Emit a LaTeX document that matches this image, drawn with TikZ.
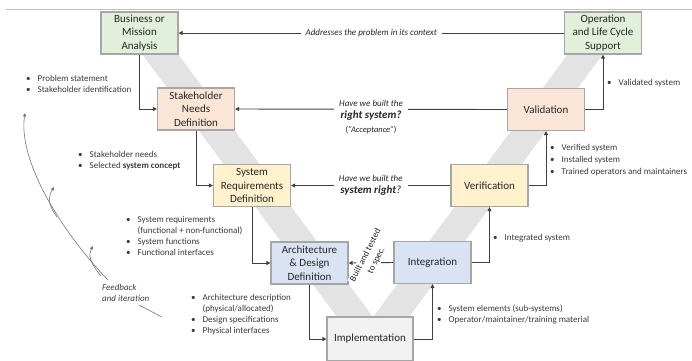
\documentclass[tikz,border=0pt]{standalone}
\usepackage{fontspec}
\setmainfont{Carlito}
\usetikzlibrary{arrows.meta}

\definecolor{boxgreen}{HTML}{E2EFDA}
\definecolor{boxpeach}{HTML}{FBE5D6}
\definecolor{boxyellow}{HTML}{FFF2CC}
\definecolor{boxblue}{HTML}{DAE3F3}
\definecolor{boxgray}{HTML}{F2F2F2}
\definecolor{boxedge}{HTML}{A6A6A6}
\definecolor{vband}{HTML}{E3E3E3}
\definecolor{ink}{HTML}{3A3A3A}
\definecolor{rule}{HTML}{BFBFBF}

% bullet marker and hanging indent for the output lists
\newcommand{\bmark}{\makebox[11.5pt][l]{\textbullet}}
\newcommand{\bhang}{\hspace*{11.5pt}}

\begin{document}
\begin{tikzpicture}[x=1pt,y=-1pt,
  stage/.style={draw=boxedge,line width=1.2pt,minimum width=77pt,minimum height=42pt,
    inner sep=2pt,align=center,text=black!85,font=\fontsize{11}{13.5}\selectfont},
  conn/.style={draw=black!75,line width=0.9pt,-{Triangle[length=4pt,width=4pt]}},
  lab/.style={fill=white,inner xsep=5pt,inner ysep=1pt,align=center,text=black!85,
    font=\fontsize{9}{12}\selectfont},
  outlist/.style={anchor=base west,inner sep=0pt,text=ink,font=\fontsize{9}{11}\selectfont},
  fb/.style={draw=black!55,line width=0.6pt},
  fbarrow/.style={fb,-{Triangle[length=3.5pt,width=3pt]}}]

\useasboundingbox (0,0) rectangle (692,360);

% top rule
\coordinate (ruleL) at (6,9);
\coordinate (ruleR) at (692,9);
\draw[rule,line width=0.8pt] (ruleL) -- (ruleR);

% the grey V behind the stages
\fill[vband] (142,54) -- (178,54) -- (373,317) -- (568,54) -- (603,54)
  -- (409,317) -- (337,317) -- cycle;

% stages
\node[stage,fill=boxgreen]  (bma) at (139.5,33)  {Business or\\Mission\\Analysis};
\node[stage,fill=boxpeach]  (snd) at (196,109)   {Stakeholder\\Needs\\Definition};
\node[stage,fill=boxyellow] (srd) at (252,185.5) {System\\Requirements\\Definition};
\node[stage,fill=boxblue]   (add) at (309.5,263) {Architecture\\\& Design\\Definition};
\node[stage,fill=boxgray,minimum width=86pt,minimum height=44pt] (imp) at (370,339) {Implementation};
\node[stage,fill=boxblue]   (int) at (432.5,262.5) {Integration};
\node[stage,fill=boxyellow] (ver) at (489.5,185.5) {Verification};
\node[stage,fill=boxpeach]  (val) at (546,109.5) {Validation};
\node[stage,fill=boxgreen]  (ops) at (603,33)    {Operation\\and Life Cycle\\Support};

% flow down the left side and up the right side
\draw[conn] (bma.south) |- (snd.west);
\draw[conn] (snd.south) |- (srd.west);
\draw[conn] (srd.south) |- (add.west);
\draw[conn] (add.south) |- (imp.west);
\draw[conn] (imp.east) -| (int.south);
\draw[conn] (int.east) -| (ver.south);
\draw[conn] (ver.east) -| (val.south);
\draw[conn] (val.east) -| (ops.south);

% checks across the V
\draw[conn] (ops.west) -- node[lab] (l1) {\itshape Addresses the problem in its context} (bma.east);
\draw[conn] (val.west) -- (snd.east);
\node[lab] (l2) at (371,117) {\itshape Have we built the\\
  {\fontsize{11}{12}\selectfont\bfseries\itshape right system?}\\[2pt]
  {\fontsize{8.5}{12}\selectfont(\textit{“Acceptance”})}};
\draw[conn] (ver.west) -- node[lab] (l3) {\itshape Have we built the\\
  {\fontsize{11}{12}\selectfont\itshape\textbf{system right}?}} (srd.east);
\draw[conn] (int.west) -- (add.east);
\node[lab,rotate=63,inner xsep=2pt,font=\fontsize{9}{12}\selectfont] (l4) at (371,258) {Built and tested\\to spec.};

% outputs of each stage
\node[outlist] (o1) at (26,81) {\begin{tabular}[t]{@{}l@{}}
  \bmark Problem statement\\ \bmark Stakeholder identification\end{tabular}};
\node[outlist] (o2) at (78,157) {\begin{tabular}[t]{@{}l@{}}
  \bmark Stakeholder needs\\ \bmark Selected \textbf{system concept}\end{tabular}};
\node[outlist] (o3) at (126,222) {\begin{tabular}[t]{@{}l@{}}
  \bmark System requirements\\ \bhang (functional + non-functional)\\
  \bmark System functions\\ \bmark Functional interfaces\end{tabular}};
\node[outlist] (o4) at (191,300) {\begin{tabular}[t]{@{}l@{}}
  \bmark Architecture description\\ \bhang (physical/allocated)\\
  \bmark Design specifications\\ \bmark Physical interfaces\end{tabular}};
\node[outlist] (o5) at (437,311) {\begin{tabular}[t]{@{}l@{}}
  \bmark System elements (sub-systems)\\ \bmark Operator/maintainer/training material\end{tabular}};
\node[outlist] (o6) at (493,240) {\begin{tabular}[t]{@{}l@{}}
  \bmark Integrated system\end{tabular}};
\node[outlist,font=\fontsize{9}{12}\selectfont] (o7) at (550,150) {\begin{tabular}[t]{@{}l@{}}
  \bmark Verified system\\ \bmark Installed system\\ \bmark Trained operators and maintainers\end{tabular}};
\node[outlist] (o8) at (607,85) {\begin{tabular}[t]{@{}l@{}}
  \bmark Validated system\end{tabular}};

% feedback and iteration
\node[anchor=west,inner sep=0pt,align=left,text=black!75,
  font=\fontsize{9}{10.5}\selectfont\itshape] (fbt) at (102,293) {Feedback\\and iteration};
\coordinate (fbfoot) at (108,280);
\coordinate (fbtop) at (25,113);
\coordinate (fbtail) at (162,317);
\coordinate (fbtailstart) at (139,305);
\coordinate (b1start) at (57,217);
\coordinate (b1tip) at (54,187);
\coordinate (b2start) at (101,276);
\coordinate (b2tip) at (93,246);
\draw[fbarrow] (fbfoot) .. controls (60,230) and (18,160) .. (fbtop);
\draw[fb] (fbtailstart) -- (fbtail);
\draw[fbarrow] (b1start) .. controls (48,205) and (48,197) .. (b1tip);
\draw[fbarrow] (b2start) .. controls (90,263) and (88,255) .. (b2tip);

\end{tikzpicture}
\end{document}
